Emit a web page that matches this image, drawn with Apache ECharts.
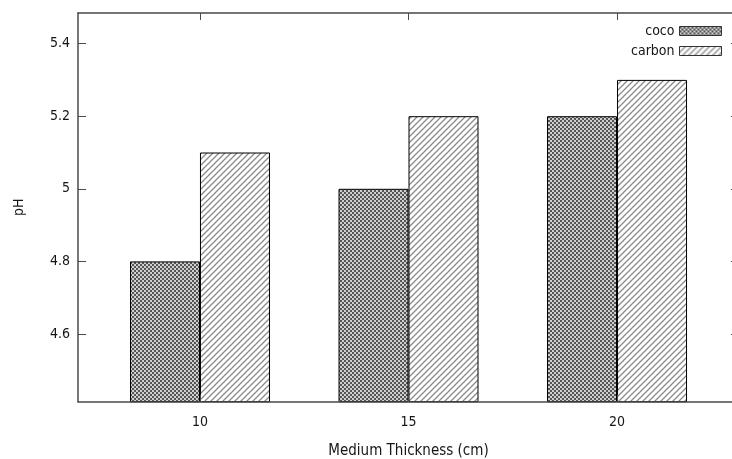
<!DOCTYPE html>
<html>
<head>
<meta charset="utf-8">
<script src="https://cdn.jsdelivr.net/npm/echarts@6/dist/echarts.min.js"></script>
<style>
  html, body { margin: 0; padding: 0; background: #fff; }
  #chart { width: 732px; height: 459px; }
</style>
</head>
<body>
<div id="chart"></div>
<script>
// pH measured for each medium thickness
const categories = ['10', '15', '20'];
const cocoValues = [4.8, 5.0, 5.2];
const carbonValues = [5.1, 5.2, 5.3];
const yTicks = [4.6, 4.8, 5.0, 5.2, 5.4];
const seriesNames = ['coco', 'carbon'];

const FONT = '"DejaVu Sans Condensed", "DejaVu Sans", sans-serif';
const AXIS_COLOR = '#4a4a4a';
const TEXT_COLOR = '#151515';

// Fill textures: dense checker and diagonal hatching
function checkerTile() {
  const c = document.createElement('canvas');
  c.width = 4; c.height = 4;
  const g = c.getContext('2d');
  g.fillStyle = '#cfcfcf';
  g.fillRect(0, 0, 4, 4);
  g.fillStyle = '#555555';
  g.fillRect(0, 0, 2, 2);
  g.fillRect(2, 2, 2, 2);
  return c;
}
function hatchTile() {
  const s = 6;
  const c = document.createElement('canvas');
  c.width = s; c.height = s;
  const g = c.getContext('2d');
  g.fillStyle = '#ffffff';
  g.fillRect(0, 0, s, s);
  g.strokeStyle = '#8a8a8a';
  g.lineWidth = 1.3;
  g.beginPath();
  g.moveTo(-1, s + 1); g.lineTo(s + 1, -1);
  g.moveTo(-1, 1); g.lineTo(1, -1);
  g.moveTo(s - 1, s + 1); g.lineTo(s + 1, s - 1);
  g.stroke();
  return c;
}
const cocoFill = { image: checkerTile(), repeat: 'repeat' };
const carbonFill = { image: hatchTile(), repeat: 'repeat' };

const xMin = -0.585, xMax = 2.585;
const yMin = 4.4135, yMax = 5.4843;
const xTickPos = categories.map((_, i) => i);

const chart = echarts.init(document.getElementById('chart'), null, { renderer: 'canvas' });
chart.setOption({
  animation: false,
  backgroundColor: '#ffffff',
  textStyle: { fontFamily: FONT },
  grid: { left: 78, right: -7, top: 13, bottom: 57.3, containLabel: false, outerBoundsMode: 'none' },
  legend: {
    data: seriesNames,
    orient: 'vertical',
    right: 5,
    top: 19,
    align: 'right',
    icon: 'rect',
    itemWidth: 42,
    itemHeight: 9,
    itemGap: 6,
    itemStyle: { borderWidth: 1, borderColor: '#333' },
    textStyle: { fontFamily: FONT, fontSize: 14, color: TEXT_COLOR }
  },
  xAxis: [{
    type: 'value',
    min: xMin, max: xMax,
    z: 10,
    name: 'Medium Thickness (cm)',
    nameLocation: 'middle',
    nameGap: 42,
    nameTextStyle: { fontFamily: FONT, fontSize: 15, color: TEXT_COLOR },
    axisLine: { show: true, onZero: false, lineStyle: { color: AXIS_COLOR, width: 1.5 } },
    axisTick: { show: true, inside: true, length: 7, customValues: xTickPos, lineStyle: { color: AXIS_COLOR } },
    axisLabel: {
      customValues: xTickPos, margin: 14,
      fontFamily: FONT, fontSize: 14, color: TEXT_COLOR,
      formatter: v => categories[Math.round(v)]
    },
    splitLine: { show: false }
  }, {
    type: 'value', position: 'top',
    min: xMin, max: xMax,
    z: 10,
    axisLine: { show: true, onZero: false, lineStyle: { color: AXIS_COLOR, width: 1.5 } },
    axisTick: { show: true, inside: true, length: 7, customValues: xTickPos, lineStyle: { color: AXIS_COLOR } },
    axisLabel: { show: false },
    splitLine: { show: false }
  }],
  yAxis: [{
    type: 'value',
    min: yMin, max: yMax,
    z: 10,
    name: 'pH',
    nameLocation: 'middle',
    nameRotate: 90,
    nameGap: 52,
    nameTextStyle: { fontFamily: FONT, fontSize: 14, color: TEXT_COLOR },
    axisLine: { show: true, onZero: false, lineStyle: { color: AXIS_COLOR, width: 1.5 } },
    axisTick: { show: true, inside: true, length: 8, customValues: yTicks, lineStyle: { color: AXIS_COLOR } },
    axisLabel: {
      customValues: yTicks, margin: 8,
      fontFamily: FONT, fontSize: 14, color: TEXT_COLOR,
      formatter: v => String(+Number(v).toFixed(1))
    },
    splitLine: { show: false }
  }, {
    type: 'value', position: 'right',
    min: yMin, max: yMax,
    z: 10,
    axisLine: { show: true, onZero: false, lineStyle: { color: AXIS_COLOR, width: 1.5 } },
    axisTick: { show: true, inside: true, length: 8, customValues: yTicks, lineStyle: { color: AXIS_COLOR } },
    axisLabel: { show: false },
    splitLine: { show: false }
  }],
  series: [{
    name: seriesNames[0],
    type: 'bar',
    xAxisIndex: 0, yAxisIndex: 0,
    barWidth: 70,
    barGap: '0%',
    clip: true,
    itemStyle: { color: cocoFill, borderColor: '#000', borderWidth: 1 },
    data: cocoValues.map((v, i) => [i, v])
  }, {
    name: seriesNames[1],
    type: 'bar',
    xAxisIndex: 0, yAxisIndex: 0,
    barWidth: 70,
    barGap: '0%',
    clip: true,
    itemStyle: { color: carbonFill, borderColor: '#000', borderWidth: 1 },
    data: carbonValues.map((v, i) => [i, v])
  }]
});
</script>
</body>
</html>
